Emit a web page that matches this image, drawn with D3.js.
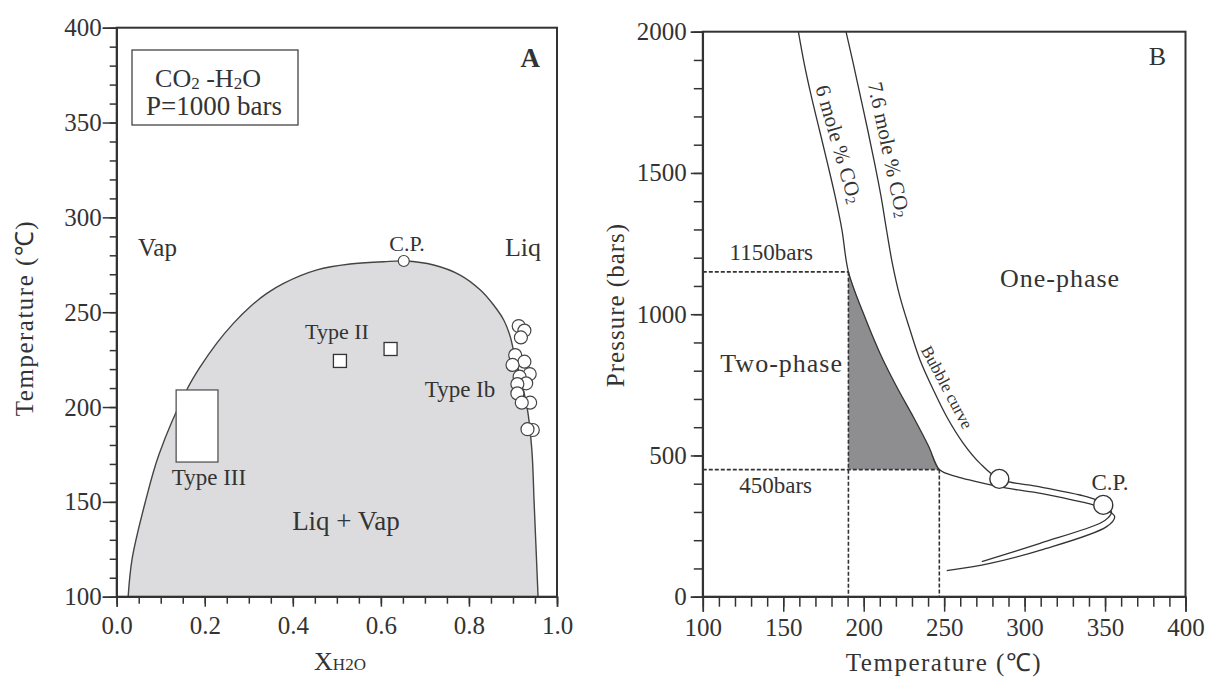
<!DOCTYPE html>
<meta charset="utf-8">
<script src="https://d3js.org/d3.v7.min.js"></script>
<style>
  body { margin: 0; background: #fff; }
  svg text { font-family: 'Liberation Serif', 'Times New Roman', serif; fill: #333; }
  .domain, .tick line { stroke: #333; stroke-width: 1.5px; }
</style>
<div id="chart"></div>
<script>

// ---------- panel A : T - X(H2O) at 1000 bars ----------
var xTicksA = [0, 0.2, 0.4, 0.6, 0.8, 1.0];
var yTicksA = [100, 150, 200, 250, 300, 350, 400];

// solvus of the two-phase field (X H2O, T)
var solvusA = [[0.026,100],[0.035,120],[0.065,150],[0.096,175],[0.159,209],[0.19,221.3],
  [0.227,233.6],[0.265,244.1],[0.303,252.9],[0.341,259.9],[0.379,265.2],[0.455,272.3],
  [0.53,275.4],[0.606,276.6],[0.655,277],[0.72,274.9],[0.78,269.6],[0.826,261.7],
  [0.856,253.8],[0.879,245.9],[0.894,237],[0.901,230],[0.932,200],[0.943,177],
  [0.948,150],[0.957,100]];
var cpA = [0.652, 277];

var typeII = [[0.507,224.3],[0.622,230.6]];
var typeIII = [0.135, 0.23, 171, 209];   // x0, x1, t0, t1
var typeIb = [[0.913,242.7],[0.926,240.3],[0.918,236.7],[0.905,227.4],[0.926,223.9],
  [0.899,222.2],[0.938,217.4],[0.915,216],[0.930,212.5],[0.910,212.1],[0.910,207.2],
  [0.939,202.3],[0.920,202.3],[0.945,187.9],[0.933,188.3]];

// ---------- panel B : P - T ----------
var xTicksB = [100, 150, 200, 250, 300, 350, 400];
var yTicksB = [0, 500, 1000, 1500, 2000];

var curve6 = [[159.4,2000],[163,1888],[167.5,1770],[172.5,1652],[177.5,1534],[182.3,1416],
  [186.5,1298],[190.5,1150],[199.8,1003],[210.1,862],[220.5,743],[230.8,637],[240.5,531],
  [247,450],[257.8,425],[268,410],[289,384],[310,366],[330,342],[345,321],[353,301],
  [356,283],[351,248],[310,165],[278.5,118],[251.6,92]];
var curve76 = [[189,2000],[193.5,1888],[198,1770],[202.5,1652],[206.8,1534],[210.8,1416],
  [214.2,1298],[217.8,1180],[222.5,1062],[228.8,944],[235,838],[243.3,732],[251.6,637],
  [261.9,543],[272.3,472],[284.3,417],[309.6,389],[334.4,360],[344.8,342],[349,325],
  [354,300],[352,280],[346.9,260],[309.6,189],[273.4,124]];
var circlesB = [[284.3,417],[348.9,325]];
var trapP = [1150, 450];
var trapT = [190.5, 247];

var svg = d3.select("#chart").append("svg")
  .attr("width", 1208).attr("height", 677);

var serif = "'Liberation Serif', 'Times New Roman', serif";
function styleAxis(g) {
  g.attr("font-family", serif).attr("font-size", 25);
  g.selectAll(".tick text").attr("fill", "#333");
}

// =========================== A ===========================
var xA = d3.scaleLinear().domain([0, 1]).range([116.7, 557]);
var yA = d3.scaleLinear().domain([100, 400]).range([596.7, 27.7]);

var lineA = d3.line()
  .x(function(d){ return xA(d[0]); })
  .y(function(d){ return yA(d[1]); })
  .curve(d3.curveCatmullRom.alpha(0.5));

svg.append("path")
  .attr("d", lineA(solvusA) + "Z")
  .attr("fill", "#dcdcde")
  .attr("stroke", "none");
svg.append("path")
  .attr("d", lineA(solvusA))
  .attr("fill", "none")
  .attr("stroke", "#444")
  .attr("stroke-width", 1.4);

// frame
svg.append("rect")
  .attr("x", xA(0)).attr("y", yA(400))
  .attr("width", xA(1) - xA(0)).attr("height", yA(100) - yA(400))
  .attr("fill", "none").attr("stroke", "#333").attr("stroke-width", 2);

// axes
svg.append("g")
  .attr("transform", "translate(0," + yA(100) + ")")
  .call(d3.axisBottom(xA).tickValues(d3.range(0, 1.001, 0.05)).tickSize(7).tickFormat(""))
  .call(function(g){ g.select(".domain").remove(); });
svg.append("g")
  .attr("transform", "translate(0," + yA(100) + ")")
  .call(d3.axisBottom(xA).tickValues(xTicksA).tickSize(10).tickPadding(10).tickFormat(d3.format(".1f")))
  .call(styleAxis)
  .call(function(g){ g.select(".domain").attr("stroke-width", 2.5); });
svg.append("g")
  .attr("transform", "translate(" + xA(0) + ",0)")
  .call(d3.axisLeft(yA).tickValues(d3.range(100, 401, 10)).tickSize(7).tickFormat(""))
  .call(function(g){ g.select(".domain").remove(); });
svg.append("g")
  .attr("transform", "translate(" + xA(0) + ",0)")
  .call(d3.axisLeft(yA).tickValues(yTicksA).tickSize(14).tickPadding(1).tickFormat(d3.format("d")))
  .call(styleAxis);

// Type III box
svg.append("rect")
  .attr("x", xA(typeIII[0])).attr("y", yA(typeIII[3]))
  .attr("width", xA(typeIII[1]) - xA(typeIII[0]))
  .attr("height", yA(typeIII[2]) - yA(typeIII[3]))
  .attr("fill", "#fff").attr("stroke", "#555").attr("stroke-width", 1.3);

// Type II squares
svg.selectAll("sq").data(typeII).enter().append("rect")
  .attr("x", function(d){ return xA(d[0]) - 6.5; })
  .attr("y", function(d){ return yA(d[1]) - 6.5; })
  .attr("width", 13).attr("height", 13)
  .attr("fill", "#fff").attr("stroke", "#333").attr("stroke-width", 1.3);

// Type Ib circles
svg.selectAll("ib").data(typeIb).enter().append("circle")
  .attr("cx", function(d){ return xA(d[0]); })
  .attr("cy", function(d){ return yA(d[1]); })
  .attr("r", 6.5)
  .attr("fill", "#fff").attr("stroke", "#444").attr("stroke-width", 1.2);

// critical point
svg.append("circle")
  .attr("cx", xA(cpA[0])).attr("cy", yA(cpA[1])).attr("r", 5.5)
  .attr("fill", "#fff").attr("stroke", "#444").attr("stroke-width", 1.2);

// legend box
svg.append("rect")
  .attr("x", 132).attr("y", 50).attr("width", 166).attr("height", 75)
  .attr("fill", "#fff").attr("stroke", "#444").attr("stroke-width", 1.3);
var l1 = svg.append("text").attr("x", 208).attr("y", 87)
  .attr("text-anchor", "middle").style("font-size", "26px");
l1.append("tspan").text("CO");
l1.append("tspan").text("2").style("font-size", "17px").attr("dy", 2);
l1.append("tspan").text(" -H").attr("dy", -2);
l1.append("tspan").text("2").style("font-size", "17px").attr("dy", 2);
l1.append("tspan").text("O").attr("dy", -2);
svg.append("text").attr("x", 214).attr("y", 115)
  .attr("text-anchor", "middle").style("font-size", "27px")
  .text("P=1000 bars");

// panel A labels
svg.append("text").attr("x", 540).attr("y", 67).attr("text-anchor", "end")
  .style("font-size", "27px").style("font-weight", "bold").text("A");
svg.append("text").attr("x", 138).attr("y", 256).style("font-size", "25px").text("Vap");
svg.append("text").attr("x", 541).attr("y", 256).attr("text-anchor", "end")
  .style("font-size", "26px").text("Liq");
svg.append("text").attr("x", 407).attr("y", 251).attr("text-anchor", "middle")
  .style("font-size", "22px").text("C.P.");
svg.append("text").attr("x", 337).attr("y", 339).attr("text-anchor", "middle")
  .style("font-size", "22px").text("Type II");
svg.append("text").attr("x", 460).attr("y", 397).attr("text-anchor", "middle")
  .style("font-size", "23px").text("Type Ib");
svg.append("text").attr("x", 209).attr("y", 485).attr("text-anchor", "middle")
  .style("font-size", "23px").text("Type III");
svg.append("text").attr("x", 346).attr("y", 530).attr("text-anchor", "middle")
  .style("font-size", "27px").text("Liq + Vap");

// axis titles A
var xt = svg.append("text").attr("x", 340).attr("y", 670).attr("text-anchor", "middle")
  .style("font-size", "26px");
xt.append("tspan").text("X");
xt.append("tspan").text("H2O").style("font-size", "17px");
svg.append("text")
  .attr("transform", "translate(33,318) rotate(-90)")
  .attr("text-anchor", "middle")
  .style("font-size", "25px").style("letter-spacing", "1.5px")
  .text("Temperature (℃)");

// =========================== B ===========================
var xB = d3.scaleLinear().domain([100, 400]).range([702.8, 1185.5]);
var yB = d3.scaleLinear().domain([0, 2000]).range([596.7, 31.7]);

var lineB = d3.line()
  .x(function(d){ return xB(d[0]); })
  .y(function(d){ return yB(d[1]); })
  .curve(d3.curveCatmullRom.alpha(0.5));

// shaded inclusion field between the two trapping pressures
var i0 = curve6.findIndex(function(d){ return d[1] === trapP[0]; });
var i1 = curve6.findIndex(function(d){ return d[1] === trapP[1]; });
var seg = curve6.slice(i0, i1 + 1);
svg.append("path")
  .attr("d", lineB(seg) + "L" + xB(trapT[0]) + "," + yB(trapP[1]) + "Z")
  .attr("fill", "#8e8e90").attr("stroke", "none");

// dashed guides
var dash = [
  [[100, trapP[0]], [trapT[0], trapP[0]]],
  [[100, trapP[1]], [trapT[1], trapP[1]]],
  [[trapT[0], trapP[0]], [trapT[0], 0]],
  [[trapT[1], trapP[1]], [trapT[1], 0]]
];
svg.selectAll("dash").data(dash).enter().append("line")
  .attr("x1", function(d){ return xB(d[0][0]); })
  .attr("y1", function(d){ return yB(d[0][1]); })
  .attr("x2", function(d){ return xB(d[1][0]); })
  .attr("y2", function(d){ return yB(d[1][1]); })
  .attr("stroke", "#333").attr("stroke-width", 1.6)
  .style("stroke-dasharray", "4,2");

// isopleths
[curve6, curve76].forEach(function(c){
  svg.append("path").attr("d", lineB(c))
    .attr("fill", "none").attr("stroke", "#333").attr("stroke-width", 1.3);
});

svg.selectAll("cb").data(circlesB).enter().append("circle")
  .attr("cx", function(d){ return xB(d[0]); })
  .attr("cy", function(d){ return yB(d[1]); })
  .attr("r", 9.5)
  .attr("fill", "#fff").attr("stroke", "#333").attr("stroke-width", 1.4);

// frame
svg.append("rect")
  .attr("x", xB(100)).attr("y", yB(2000))
  .attr("width", xB(400) - xB(100)).attr("height", yB(0) - yB(2000))
  .attr("fill", "none").attr("stroke", "#333").attr("stroke-width", 2);

// axes B
svg.append("g")
  .attr("transform", "translate(0," + yB(0) + ")")
  .call(d3.axisBottom(xB).tickValues(d3.range(100, 401, 10)).tickSize(10).tickFormat(""))
  .call(function(g){ g.select(".domain").remove(); });
svg.append("g")
  .attr("transform", "translate(0," + yB(0) + ")")
  .call(d3.axisBottom(xB).tickValues(xTicksB).tickSize(15).tickPadding(7).tickFormat(d3.format("d")))
  .call(styleAxis)
  .call(function(g){ g.select(".domain").attr("stroke-width", 2.5); });
svg.append("g")
  .attr("transform", "translate(" + xB(100) + ",0)")
  .call(d3.axisLeft(yB).tickValues(d3.range(0, 2001, 100)).tickSize(9).tickFormat(""))
  .call(function(g){ g.select(".domain").remove(); });
svg.append("g")
  .attr("transform", "translate(" + xB(100) + ",0)")
  .call(d3.axisLeft(yB).tickValues(yTicksB).tickSize(12).tickPadding(4).tickFormat(d3.format("d")))
  .call(styleAxis);

// panel B labels
svg.append("text").attr("x", 1166).attr("y", 65).attr("text-anchor", "end")
  .style("font-size", "26px").text("B");
svg.append("text").attr("x", 813).attr("y", 260).attr("text-anchor", "end")
  .style("font-size", "23px").text("1150bars");
svg.append("text").attr("x", 812).attr("y", 493).attr("text-anchor", "end")
  .style("font-size", "23px").text("450bars");
svg.append("text").attr("x", 843).attr("y", 372).attr("text-anchor", "end")
  .style("font-size", "26px").style("letter-spacing", "1px").text("Two-phase");
svg.append("text").attr("x", 1060).attr("y", 287).attr("text-anchor", "middle")
  .style("font-size", "26px").style("letter-spacing", "1px").text("One-phase");
svg.append("text").attr("x", 1110).attr("y", 490).attr("text-anchor", "middle")
  .style("font-size", "23px").text("C.P.");

var r6 = svg.append("text").attr("transform", "translate(832,146) rotate(74)")
  .attr("text-anchor", "middle").style("font-size", "21px");
r6.append("tspan").text("6 mole % CO");
r6.append("tspan").text("2").style("font-size", "14px").attr("dy", 2);
var r76 = svg.append("text").attr("transform", "translate(882,151) rotate(78)")
  .attr("text-anchor", "middle").style("font-size", "21px");
r76.append("tspan").text("7.6 mole % CO");
r76.append("tspan").text("2").style("font-size", "14px").attr("dy", 2);
svg.append("text").attr("transform", "translate(942,390) rotate(62)")
  .attr("text-anchor", "middle").style("font-size", "17px").text("Bubble curve");

// axis titles B
svg.append("text").attr("x", 944).attr("y", 671).attr("text-anchor", "middle")
  .style("font-size", "25px").style("letter-spacing", "1.5px")
  .text("Temperature (℃)");
svg.append("text")
  .attr("transform", "translate(624,305) rotate(-90)")
  .attr("text-anchor", "middle")
  .style("font-size", "25px").style("letter-spacing", "1px")
  .text("Pressure (bars)");

</script>
